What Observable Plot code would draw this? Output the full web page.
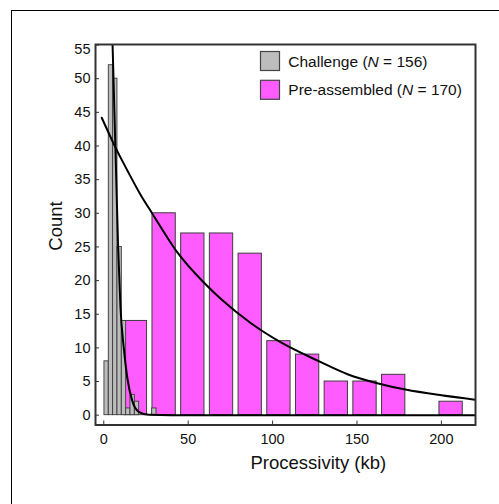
<!DOCTYPE html>
<html><head><meta charset="utf-8">
<script src="https://cdn.jsdelivr.net/npm/d3@7"></script>
<script src="https://cdn.jsdelivr.net/npm/@observablehq/plot@0.6"></script>
<style>
html,body{margin:0;padding:0;background:#fff;}
#wrap{position:relative;width:499px;height:504px;overflow:hidden;background:#fff;}
#border{position:absolute;left:11px;top:10px;width:600px;height:600px;border-top:1.5px solid #000;border-left:1.5px solid #000;}
#chart{position:absolute;left:0;top:0;}
</style></head><body>
<div id="wrap"><div id="border"></div><div id="chart"></div></div>
<script>
// Challenge (gray) histogram: bin lower edges (kb) and counts
const grayBinLo = [0.4, 2.97, 5.54, 8.11, 10.68, 13.25, 15.82, 18.39, 20.96, 23.53, 26.1, 28.67];
const grayBinWidth = 2.57;
const grayCounts = [8, 52, 50, 25, 14, 1, 3, 2, 0, 0, 0, 1];

// Pre-assembled (magenta) histogram: bin centers (kb) and counts
const magentaBinCenter = [18.75, 35.75, 52.75, 69.75, 86.75, 103.75, 120.75, 137.75, 154.75, 171.75, 188.75, 205.75];
const magentaBinWidth = 17;
const magentaCounts = [14, 30, 27, 27, 24, 11, 9, 5, 5, 6, 0, 2];

// Fitted curves
const magentaFitX = [-1.2, 6.9, 13.9, 21.7, 28.9, 42.7, 59.7, 70.1, 87, 104.7, 127.6, 144.8, 162, 178.7, 200, 220.2];
const magentaFitY = [44.2, 39.8, 36.4, 32.8, 29.9, 24.5, 19.6, 17.1, 13.7, 10.85, 8.0, 6.05, 4.75, 3.8, 2.95, 2.3];
const grayFitX = [5.0, 6.3, 7.3, 8.5, 9.9, 11.8, 13.9, 16.8, 20.7, 26.7, 40, 220.2];
const grayFitY = [57, 45, 36, 25, 16, 10.1, 5.6, 2.2, 0.5, 0.05, 0, 0];

// Axis ticks
const xTicks = [0, 50, 100, 150, 200];
const yTicks = [0, 5, 10, 15, 20, 25, 30, 35, 40, 45, 50];
const yTopTick = [55];

// Legend
const legendLabels = [["Challenge (", "N", " = 156)"], ["Pre-assembled (", "N", " = 170)"]];
const colors = {gray: "#bdbdbd", magenta: "#ff5cff"};

const gray = grayBinLo.map((lo, i) => ({lo, hi: lo + grayBinWidth, count: grayCounts[i]})).filter(d => d.count > 0);
const magenta = magentaBinCenter.map((c, i) => ({lo: c - magentaBinWidth / 2, hi: c + magentaBinWidth / 2, count: magentaCounts[i]})).filter(d => d.count > 0);
const magentaFit = magentaFitX.map((x, i) => ({x, y: magentaFitY[i]}));
const grayFit = grayFitX.map((x, i) => ({x, y: grayFitY[i]}));

const font = "'Liberation Sans', Arial, sans-serif";

const chart = Plot.plot({
  width: 499, height: 504,
  marginLeft: 95, marginRight: 24, marginTop: 44, marginBottom: 79.5,
  x: {domain: [-4.9, 220.2]},
  y: {domain: [-1.46, 55.08]},
  style: {fontFamily: font, background: "transparent", color: "#111"},
  marks: [
    Plot.rectY(magenta, {x1: "lo", x2: "hi", y: "count", fill: colors.magenta, stroke: "#3d3d3d", strokeWidth: 1, insetLeft: 2.7, insetRight: 2.7}),
    Plot.rectY(gray, {x1: "lo", x2: "hi", y: "count", fill: colors.gray, stroke: "#3a3a3a", strokeWidth: 0.9}),
    Plot.line(magentaFit, {x: "x", y: "y", curve: "monotone-x", stroke: "#000", strokeWidth: 2, clip: true}),
    Plot.line(grayFit, {x: "x", y: "y", curve: "monotone-x", stroke: "#000", strokeWidth: 2, clip: true}),
    Plot.axisX(xTicks, {tickSize: -4, tickFormat: () => "", label: null, stroke: "#333"}),
    Plot.axisX(xTicks, {tickSize: 0, tickPadding: 9, fontSize: 14.5, label: null, tickFormat: d => String(d)}),
    Plot.axisY([...yTicks, ...yTopTick], {tickSize: -4, tickFormat: () => "", label: null, stroke: "#333"}),
    Plot.axisY(yTicks, {tickSize: 0, tickPadding: 5, fontSize: 14.5, label: null, tickFormat: d => String(d)}),
    Plot.axisY(yTopTick, {tickSize: 0, tickPadding: 5, fontSize: 14.5, label: null, dy: 4.5, tickFormat: d => String(d)}),
    Plot.frame({stroke: "#333", strokeWidth: 2})
  ]
});

const svg = d3.select(chart);
// axis titles
svg.append("text").attr("transform", "translate(61.5,226) rotate(-90)")
  .attr("text-anchor", "middle").attr("font-size", 18.5).attr("font-family", font).attr("fill", "#111").text("Count");
svg.append("text").attr("x", 318.3).attr("y", 469.3)
  .attr("text-anchor", "middle").attr("font-size", 18.5).attr("font-family", font).attr("fill", "#111").text("Processivity (kb)");

// legend
const lg = svg.append("g").attr("font-family", font).attr("font-size", 15.5).attr("fill", "#111").attr("text-anchor", "start");
[colors.gray, colors.magenta].forEach((c, i) => {
  const cy = 61 + i * 28.8;
  lg.append("rect").attr("x", 260.5).attr("y", cy - 9.5).attr("width", 19).attr("height", 19)
    .attr("fill", c).attr("stroke", "#444").attr("stroke-width", 1.2);
  const t = lg.append("text").attr("x", 288.3).attr("y", cy + 5.6).attr("text-anchor", "start");
  t.append("tspan").text(legendLabels[i][0]);
  t.append("tspan").attr("font-style", "italic").text(legendLabels[i][1]);
  t.append("tspan").text(legendLabels[i][2]);
});

document.getElementById("chart").appendChild(chart);
</script>
</body></html>
